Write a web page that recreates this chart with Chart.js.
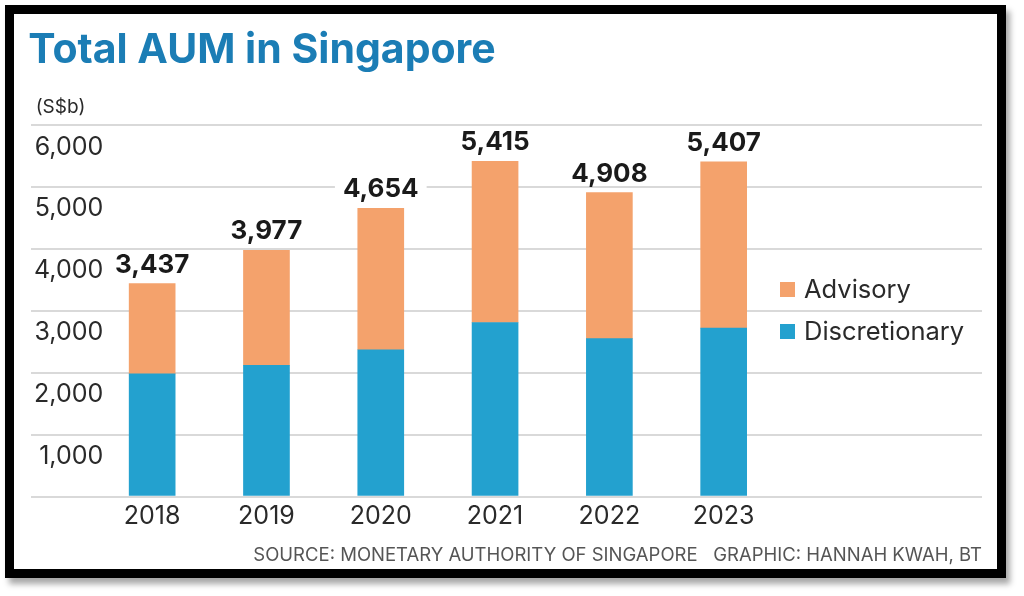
<!DOCTYPE html>
<html>
<head>
<meta charset="utf-8">
<title>Total AUM in Singapore</title>
<script src="https://cdn.jsdelivr.net/npm/chart.js@4.4.0/dist/chart.umd.min.js"></script>
<style>
  html, body { margin: 0; padding: 0; background: #fff; }
  #frame {
    position: absolute; left: 5px; top: 5px;
    width: 983px; height: 555px;
    border: 9px solid #000;
    box-shadow: 4px 6px 6px rgba(0, 0, 0, 0.35);
    background: #fff;
  }
  #frame canvas { display: block; }
</style>
</head>
<body>
<div id="frame"><canvas id="aum-chart"></canvas></div>
<script>
// Data (S$b)
const years = [2018, 2019, 2020, 2021, 2022, 2023];
const discretionary = [1980, 2120, 2370, 2810, 2550, 2720];
const advisory = [1457, 1857, 2284, 2605, 2358, 2687];
const yTicks = [0, 1000, 2000, 3000, 4000, 5000, 6000];

const COLORS = {
    title: '#1b7db5',
    text: '#2a2a2a',
    source: '#555555',
    grid: '#d9d9d9',
    advisory: '#f4a26c',
    discretionary: '#23a1cf'
};
const FONT = "'Inter', 'Liberation Sans', sans-serif";

// totals printed above each bar, with a white box that cuts the gridlines
const totalLabels = {
    id: 'totalLabels',
    afterDatasetsDraw(chart) {
        const ctx = chart.ctx;
        const top = chart.getDatasetMeta(chart.data.datasets.length - 1);
        ctx.save();
        ctx.font = `700 26px ${FONT}`;
        ctx.textAlign = 'center';
        ctx.textBaseline = 'alphabetic';
        top.data.forEach((bar, i) => {
            const total = discretionary[i] + advisory[i];
            const text = total.toLocaleString('en-US');
            const w = ctx.measureText(text).width;
            const base = bar.y - 11;
            ctx.fillStyle = '#fff';
            ctx.fillRect(bar.x - w / 2 - 8, base - 22, w + 16, 26);
            ctx.fillStyle = '#1a1a1a';
            ctx.fillText(text, bar.x, base);
        });
        ctx.restore();
    }
};

// legend sitting inside the plot, right of the bars
const sideLegend = {
    id: 'sideLegend',
    afterDraw(chart) {
        const ctx = chart.ctx;
        const x = 766;
        const rows = [
            { ds: chart.data.datasets[1], y: 276 },
            { ds: chart.data.datasets[0], y: 318 }
        ];
        ctx.save();
        ctx.font = `400 25.5px ${FONT}`;
        ctx.textBaseline = 'middle';
        ctx.textAlign = 'left';
        rows.forEach(r => {
            ctx.fillStyle = r.ds.backgroundColor;
            ctx.fillRect(x, r.y - 8, 15, 15);
            ctx.fillStyle = COLORS.text;
            ctx.fillText(r.ds.label, x + 24, r.y);
        });
        ctx.restore();
    }
};

const ctx = document.getElementById('aum-chart');
new Chart(ctx, {
    type: 'bar',
    data: {
        datasets: [
            {
                label: 'Discretionary',
                data: years.map((y, i) => ({ x: y, y: discretionary[i] })),
                backgroundColor: COLORS.discretionary,
                barThickness: 46
            },
            {
                label: 'Advisory',
                data: years.map((y, i) => ({ x: y, y: advisory[i] })),
                backgroundColor: COLORS.advisory,
                barThickness: 46
            }
        ]
    },
    options: {
        responsive: true,
        maintainAspectRatio: false,
        animation: false,
        layout: {
            padding: { left: 11, right: 15, top: 0, bottom: 0 }
        },
        plugins: {
            legend: { display: false },
            tooltip: { enabled: false },
            title: {
                display: true,
                text: '\u200ATotal AUM in Singapore',
                align: 'start',
                color: COLORS.title,
                font: { family: FONT, size: 41, weight: 700, lineHeight: 1.2 },
                padding: { top: 12, bottom: 9 }
            },
            subtitle: {
                display: true,
                text: '  (S$b)',
                align: 'start',
                color: COLORS.text,
                font: { family: FONT, size: 19, weight: 400, lineHeight: 1.2 },
                padding: { top: 12, bottom: 6 }
            }
        },
        scales: {
            x: {
                type: 'linear',
                offset: false,
                stacked: true,
                min: 2016.94,
                max: 2025.26,
                afterBuildTicks: axis => {
                    axis.ticks = years.map(v => ({ value: v }));
                },
                grid: { display: false, drawTicks: false },
                border: { display: false },
                ticks: {
                    color: COLORS.text,
                    padding: 7,
                    font: { family: FONT, size: 25, lineHeight: 1 },
                    callback: v => String(v)
                },
                title: {
                    display: true,
                    text: 'SOURCE: MONETARY AUTHORITY OF SINGAPORE   GRAPHIC: HANNAH KWAH, BT',
                    align: 'end',
                    color: COLORS.source,
                    font: { family: FONT, size: 18.5, lineHeight: 1 },
                    padding: { top: 11, bottom: 4 }
                }
            },
            y: {
                stacked: true,
                min: 0,
                max: 6000,
                afterBuildTicks: axis => {
                    axis.ticks = yTicks.map(v => ({ value: v }));
                },
                grid: { color: COLORS.grid, lineWidth: 2, drawTicks: false },
                border: { display: false },
                ticks: {
                    mirror: true,
                    crossAlign: 'far',
                    padding: 3,
                    labelOffset: 22,
                    color: COLORS.text,
                    font: { family: FONT, size: 25 },
                    callback: v => (v === 0 ? '' : v.toLocaleString('en-US'))
                }
            }
        }
    },
    plugins: [totalLabels, sideLegend]
});
</script>
</body>
</html>
